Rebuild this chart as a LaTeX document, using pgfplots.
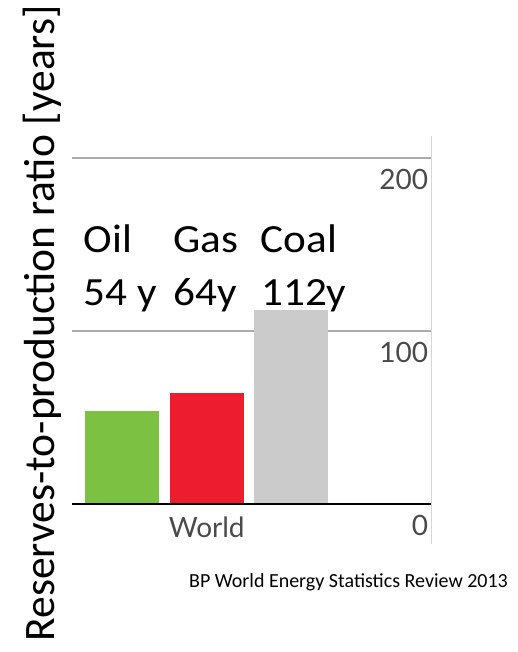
\documentclass[border=0pt]{standalone}
\usepackage{pgfplots}
\pgfplotsset{compat=1.18}
\usepackage{fontspec}
\setmainfont{Carlito}
\newfontfamily\tickfont{Lato}
\definecolor{oilgreen}{HTML}{7CC142}
\definecolor{gasred}{HTML}{ED1C2E}
\definecolor{coalgray}{HTML}{CBCBCB}
\definecolor{gridgray}{HTML}{ABABAB}
\definecolor{ticktext}{HTML}{4A4A4A}
\definecolor{framegray}{HTML}{D6D6D6}
\definecolor{baseline}{HTML}{333333}

\begin{document}
\begin{tikzpicture}
\path[use as bounding box] (-72pt,-148pt) rectangle (445pt,504pt);
\begin{axis}[
  at={(0pt,0pt)}, anchor=south west,
  scale only axis, width=359.7pt, height=368pt,
  xmin=-134.7, xmax=225, ymin=0, ymax=212.8,
  ybar=10.7pt, bar width=74pt,
  axis line style={draw=none},
  major tick length=0pt,
  xtick={0}, xticklabels={World},
  ytick={0,100,200},
  yticklabel pos=right,
  ymajorgrids, grid style={gridgray, line width=1.3pt},
  clip=false,
  tick label style={font=\tickfont\fontsize{28}{30}\selectfont, text=ticktext, inner sep=0pt},
  yticklabel style={anchor=north east, xshift=-3.4pt, yshift=-11pt},
  xticklabel style={anchor=north, yshift=-13pt},
  /pgf/number format/assume math mode=true,
]
% reserves-to-production ratios, world total
\addplot[fill=oilgreen, draw=none] coordinates {(0,54)};
\addplot[fill=gasred, draw=none] coordinates {(0,64)};
\addplot[fill=coalgray, draw=none] coordinates {(0,112)};
% zero line and right frame
\draw[baseline, line width=2.5pt] (axis cs:-134.7,0) -- (axis cs:225,0);
\draw[framegray, line width=1pt] (axis cs:225,-23.1) -- (axis cs:225,212.8);
\end{axis}

\begin{scope}[every node/.style={anchor=base west, inner sep=0pt, xscale=1.08, font=\fontsize{40}{48}\selectfont}]
\node at (11.5pt,251pt) {Oil};
\node at (101.5pt,251pt) {Gas};
\node at (188.5pt,251pt) {Coal};
\node at (11.5pt,198.3pt) {54 y};
\node at (101.5pt,198.3pt) {64y};
\node at (189pt,198.3pt) {112y};
\end{scope}

\node[rotate=90, anchor=base west, inner sep=0pt, font=\fontsize{43.5}{50}\selectfont]
  at (-17.5pt,-137.5pt) {Reserves-to-production ratio [years]};
\node[anchor=base west, inner sep=0pt, font=\fontsize{20}{24}\selectfont]
  at (117pt,-83.3pt) {BP World Energy Statistics Review 2013};
\end{tikzpicture}
\end{document}
